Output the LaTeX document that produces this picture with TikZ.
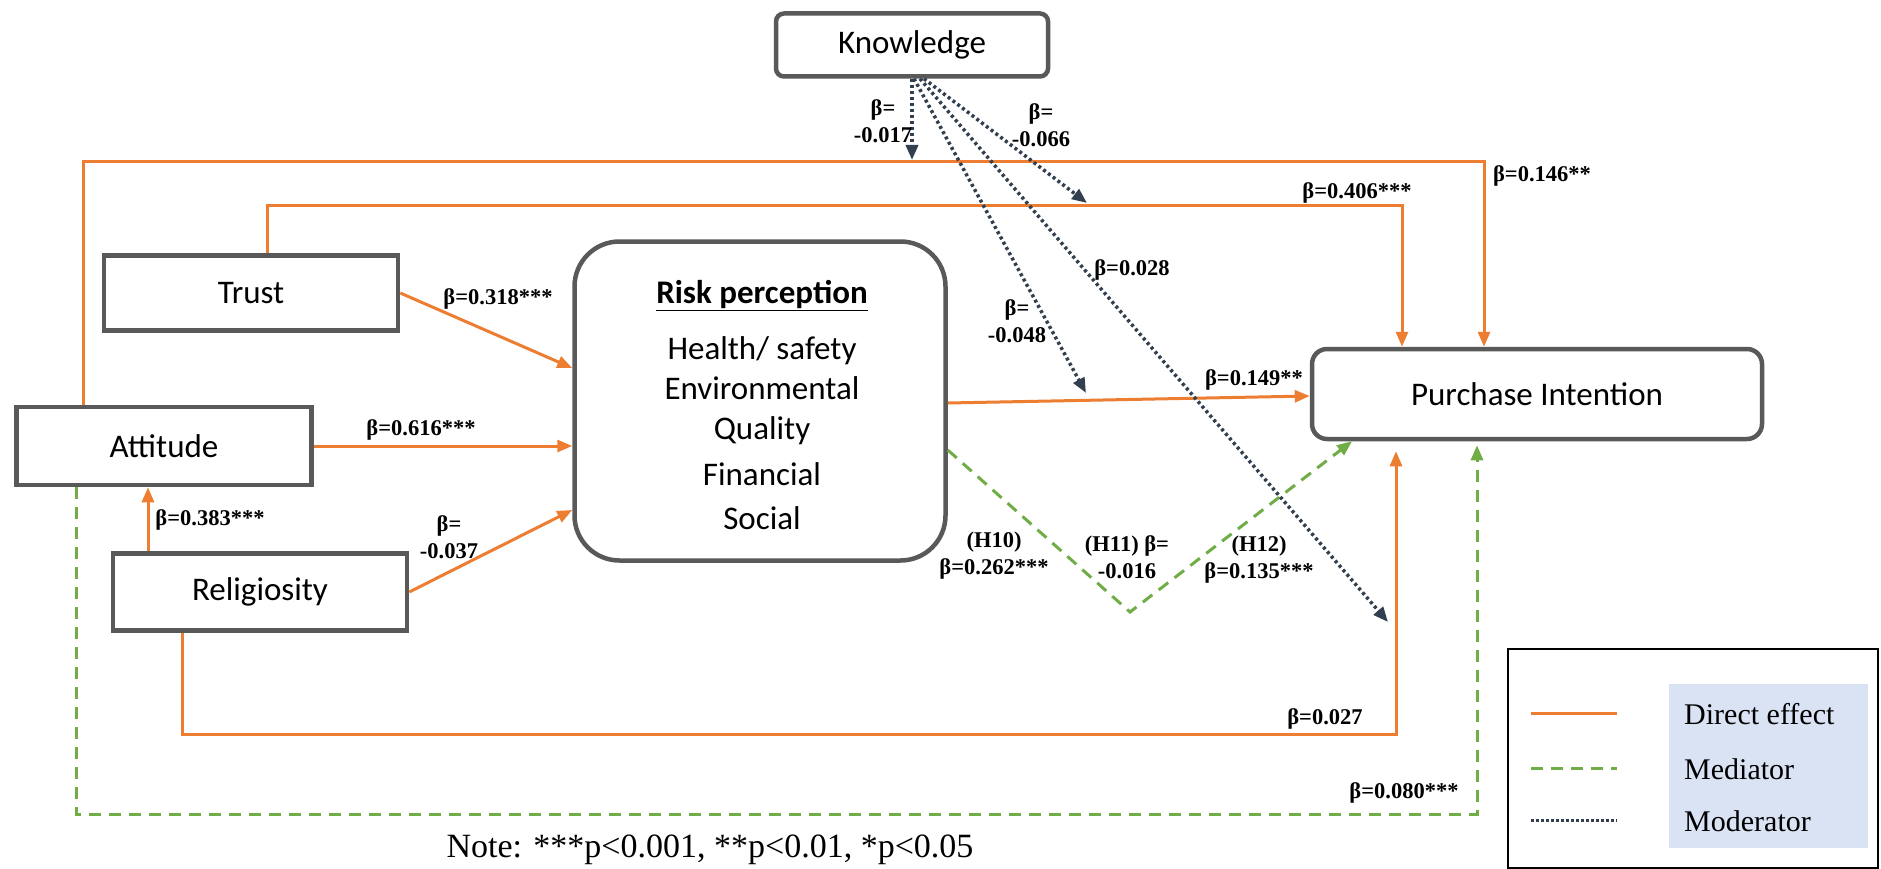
\documentclass[tikz,border=0pt]{standalone}
\usepackage{fontspec}
\setmainfont{Liberation Serif}[BoldFont={Liberation Serif Bold}]
\newfontfamily\carlito{Carlito}
\usetikzlibrary{arrows.meta,calc}
\definecolor{orng}{HTML}{ED7D31}
\definecolor{grn}{HTML}{70AD47}
\definecolor{navy}{HTML}{323F4F}
\definecolor{boxgray}{HTML}{595959}
\definecolor{legblue}{HTML}{DAE3F3}
\begin{document}
\begin{tikzpicture}[x=1pt,y=-1pt,
  box/.style={draw=boxgray,line width=4.5pt,fill=white,inner sep=0pt,align=center,
    font=\carlito\fontsize{33}{40}\selectfont},
  arr/.style={-{Triangle[length=15pt,width=12pt]}},
  dline/.style={draw=orng,line width=3pt},
  mline/.style={draw=grn,line width=3pt,dash pattern=on 12pt off 8pt},
  oline/.style={draw=navy,line width=3.5pt,dash pattern=on 3pt off 3pt},
  direct/.style={dline,arr},
  med/.style={mline,arr},
  mod/.style={oline,arr},
  lbl/.style={font=\rmfamily\bfseries\fontsize{22.5}{27}\selectfont,inner sep=1pt,align=center},
  legtext/.style={font=\fontsize{30}{36}\selectfont,inner sep=0pt,anchor=west}
]
\useasboundingbox (0,0) rectangle (1881,869);

% nodes
\node[box,rounded corners=8pt,minimum width=272pt,minimum height=63pt] (know) at (912,45) {Knowledge};
\node[box,minimum width=294pt,minimum height=75pt] (trust) at (251,293) {Trust};
\node[box,minimum width=295pt,minimum height=78pt] (att) at (164,446) {Attitude};
\node[box,minimum width=294pt,minimum height=77pt] (rel) at (260,592) {Religiosity};
\node[box,rounded corners=45pt,minimum width=371pt,minimum height=319pt] (risk) at (760,401) {};
\node[align=center,inner sep=0pt,font=\carlito\fontsize{33}{40}\selectfont] (riskt) at (762,405)
  {\textbf{\underline{Risk perception}}\\[16pt]Health/ safety\\Environmental\\Quality\\[6pt]Financial\\[4pt]Social};
\node[box,rounded corners=15pt,minimum width=450pt,minimum height=90pt] (pi) at (1537,394) {Purchase Intention};

% coordinates
\coordinate (a1) at (83,162);   \coordinate (a2) at (1484,162);
\coordinate (t1) at (267,206);  \coordinate (t2) at (1402,206);
\coordinate (r1) at (0,368);    \coordinate (r2) at (0,510);
\coordinate (c1) at (148,0);
\coordinate (b1) at (182,734);  \coordinate (b2) at (1396,734);
\coordinate (r3) at (0,403);    \coordinate (p3) at (0,396);
\coordinate (g1) at (76,814);   \coordinate (g2) at (1477,814);
\coordinate (v0) at (0,450);    \coordinate (v1) at (1130,612); \coordinate (v2) at (1352,0);
\coordinate (k1) at (914,80);   \coordinate (k2) at (920,80); \coordinate (k3) at (924,80);
\coordinate (m1) at (912,160);  \coordinate (m2) at (1087,203);
\coordinate (m3) at (1086,393); \coordinate (m4) at (1388,622);

% direct effects
\draw[direct] (att.north -| a1) -- (a1) -- (a2) -- (pi.north -| a2);
\draw[direct] (trust.north -| t1) -- (t1) -- (t2) -- (pi.north -| t2);
\draw[direct] (trust.east) -- (risk.west |- r1);
\draw[direct] (att.east) -- (risk.west |- att.east);
\draw[direct] (rel.east) -- (risk.west |- r2);
\draw[direct] (rel.north -| c1) -- (att.south -| c1);
\draw[direct,shorten >=10pt] (rel.south -| b1) -- (b1) -- (b2) -- (pi.south -| b2);
\draw[direct] (risk.east |- r3) -- (pi.west |- p3);

% mediators
\draw[med,shorten >=4pt] (att.south -| g1) -- (g1) -- (g2) -- (pi.south -| g2);
\draw[med] (risk.east |- v0) -- (v1) -- (pi.south -| v2);

% moderators
\draw[mod] (know.south) -- (m1);
\draw[mod] (know.south -| k3) -- (m2);
\draw[mod] (know.south -| k1) -- (m3);
\draw[mod] (know.south -| k2) -- (m4);

% labels
\node[lbl] (l318) at (498,299) {β=0.318***};
\node[lbl] (l616) at (421,430) {β=0.616***};
\node[lbl] (l383) at (210,520) {β=0.383***};
\node[lbl] (l037) at (449,537) {β=\\-0.037};
\node[lbl] (l017) at (883,121) {β=\\-0.017};
\node[lbl] (l066) at (1041,125) {β=\\-0.066};
\node[lbl] (l028) at (1132,270) {β=0.028};
\node[lbl] (l048) at (1017,321) {β=\\-0.048};
\node[lbl] (l149) at (1254,380) {β=0.149**};
\node[lbl] (l406) at (1357,193) {β=0.406***};
\node[lbl] (l146) at (1542,176) {β=0.146**};
\node[lbl] (lh10) at (994,556) {(H10)\\β=0.262***};
\node[lbl] (lh11) at (1127,557) {(H11) β=\\-0.016};
\node[lbl] (lh12) at (1259,560) {(H12)\\β=0.135***};
\node[lbl] (l027) at (1325,719) {β=0.027};
\node[lbl] (l080) at (1404,793) {β=0.080***};

\node[font=\fontsize{34}{40}\selectfont,inner sep=0pt] (note) at (710,850) {Note: ***p<0.001, **p<0.01, *p<0.05};

% legend
\node[draw=black,line width=2pt,minimum width=370pt,minimum height=219pt,inner sep=0pt] (legend) at (1693,758) {};
\node[fill=legblue,minimum width=199pt,minimum height=164pt,inner sep=0pt] (legfill) at (1768,766) {};
\coordinate (L1a) at (1531,713); \coordinate (L1b) at (1617,713);
\coordinate (L2a) at (1531,768); \coordinate (L2b) at (1617,768);
\coordinate (L3a) at (1531,820); \coordinate (L3b) at (1617,820);
\draw[dline] (L1a) -- (L1b);
\draw[mline] (L2a) -- (L2b);
\draw[oline,line width=3pt,dash pattern=on 2.5pt off 2.5pt] (L3a) -- (L3b);
\node[legtext] (leg1) at (1684,714) {Direct effect};
\node[legtext] (leg2) at (1684,769) {Mediator};
\node[legtext] (leg3) at (1684,821) {Moderator};
\end{tikzpicture}
\end{document}
